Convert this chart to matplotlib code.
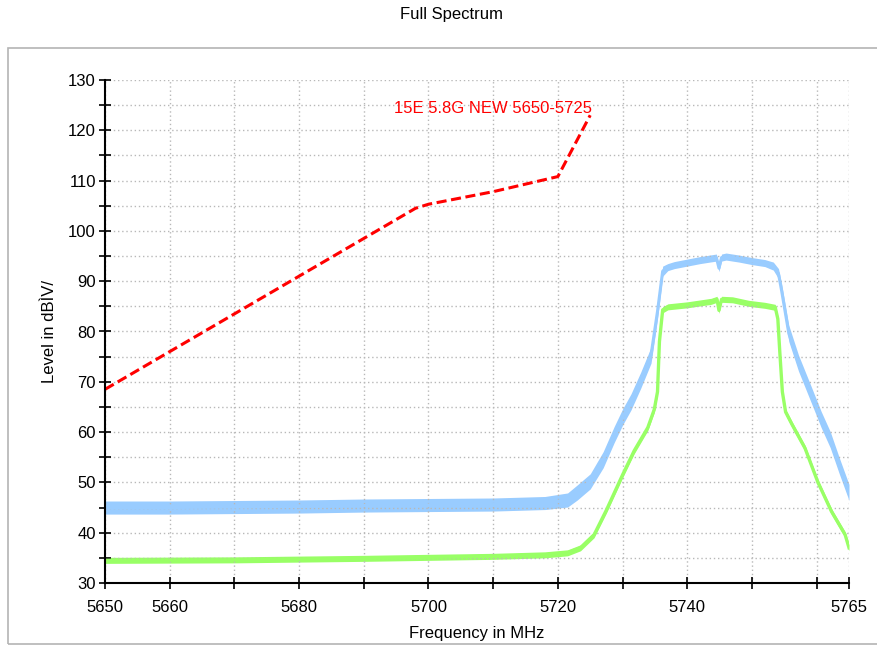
import matplotlib
matplotlib.use('Agg')
import matplotlib.pyplot as plt
from matplotlib.patches import Rectangle

plt.rcParams['font.family'] = ['Liberation Sans', 'DejaVu Sans']

# blue trace (upper measurement): centre line and half band height in dB
blue_freq = [5650, 5660, 5670, 5680, 5690, 5700, 5710, 5718, 5721.5, 5723, 5725,
             5727, 5728.7, 5730, 5731.3, 5732.8, 5734.4, 5735.4, 5736.2, 5737,
             5738, 5740, 5742, 5744.5, 5744.9, 5745.3, 5746, 5748, 5750, 5752,
             5753.3, 5754.1, 5754.6, 5755.7, 5757.2, 5759.3, 5760.7, 5762.1,
             5763.5, 5765]
blue_level = [45.0, 45.0, 45.1, 45.2, 45.4, 45.5, 45.6, 45.9, 46.5, 48.0, 50.2,
              54.5, 59.5, 63.0, 66.0, 70.3, 75.3, 84.0, 92.0, 92.8,
              93.2, 93.7, 94.2, 94.7, 92.6, 94.7, 94.9, 94.5, 94.0, 93.6,
              93.0, 91.5, 88.0, 79.6, 73.7, 67.0, 62.5, 58.5,
              53.3, 48.0]
blue_spread = [1.3, 1.3, 1.3, 1.3, 1.3, 1.3, 1.3, 1.3, 1.4, 1.5, 1.5,
               1.6, 1.6, 1.6, 1.6, 1.6, 1.6, 1.5, 1.0, 0.7,
               0.7, 0.7, 0.7, 0.7, 0.7, 0.7, 0.7, 0.7, 0.7, 0.7,
               0.8, 1.0, 1.4, 1.6, 1.6, 1.6, 1.6, 1.6,
               1.6, 1.6]

# green trace (lower measurement)
green_freq = [5650, 5670, 5690, 5710, 5718, 5721.5, 5723.5, 5725.6, 5727.5, 5730,
              5731.8, 5733.9, 5734.9, 5735.4, 5735.7, 5736.2, 5737, 5740, 5743.7,
              5744.6, 5744.9, 5745.3, 5747, 5749.5, 5752, 5753.6, 5754.0, 5754.3,
              5754.7, 5755.2, 5756.2, 5758.2, 5760.2, 5762.3, 5764.4, 5765]
green_level = [34.5, 34.6, 34.9, 35.3, 35.6, 36.0, 37.0, 39.6, 44.5, 51.5,
               56.3, 60.9, 64.5, 68.0, 78.0, 84.3, 84.9, 85.3, 86.0,
               86.4, 84.2, 86.4, 86.3, 85.6, 85.2, 84.8, 82.5, 76.0,
               68.0, 64.0, 61.5, 56.8, 50.0, 44.2, 39.6, 37.0]

# limit line
limit_freq = [5650, 5698, 5700, 5710, 5720, 5725]
limit_level = [68.5, 104.5, 105.3, 107.8, 110.8, 123.0]
limit_name = "15E 5.8G NEW 5650-5725"

x_ticks = [5650, 5660, 5670, 5680, 5690, 5700, 5710, 5720, 5730, 5740, 5750, 5760, 5765]
x_labels = ['5650', '5660', '', '5680', '', '5700', '', '5720', '', '5740', '', '', '5765']
y_ticks = list(range(30, 131, 5))

fig = plt.figure(figsize=(8.78, 6.46), dpi=100)
ax = fig.add_axes([105 / 878, 1 - 583 / 646, 744 / 878, 503 / 646])

fig.patches.append(Rectangle((8 / 878, 2 / 646), 1.0, 1 - 50 / 646,
                             transform=fig.transFigure, fill=False,
                             edgecolor='#b4b4b4', linewidth=1.2))
fig.text(452 / 878, 1 - 15 / 646, 'Full Spectrum', ha='center', va='center', fontsize=12)

blue_lo = [v - s for v, s in zip(blue_level, blue_spread)]
blue_hi = [v + s for v, s in zip(blue_level, blue_spread)]
ax.fill_between(blue_freq, blue_lo, blue_hi, color='#99ccff', linewidth=0)
ax.plot(blue_freq, blue_level, color='#99ccff', linewidth=2.2)

green_lo = [v - 0.6 for v in green_level]
green_hi = [v + 0.6 for v in green_level]
ax.fill_between(green_freq, green_lo, green_hi, color='#99ff66', linewidth=0)
ax.plot(green_freq, green_level, color='#99ff66', linewidth=2.4)

ax.plot(limit_freq, limit_level, color='red', linewidth=2.2, linestyle=(0, (3.3, 1.5)))
ax.text(5710, 124.4, limit_name, color='red', fontsize=12, ha='center', va='center')

ax.set_xlim(5650, 5765)
ax.set_ylim(30, 130)
ax.set_xticks(x_ticks)
ax.set_xticklabels(x_labels)
ax.set_yticks(y_ticks)
ax.set_yticklabels([str(t) if t % 10 == 0 else '' for t in y_ticks])
ax.tick_params(direction='inout', length=9, width=1.2, labelsize=12, pad=2)
ax.tick_params(axis='x', pad=8)

ax.grid(True, linestyle=(0, (1, 2)), color='#b8b8b8', linewidth=1)
for side in ['top', 'right']:
    ax.spines[side].set_visible(False)
for side in ['left', 'bottom']:
    ax.spines[side].set_linewidth(1.5)

ax.set_xlabel('Frequency in MHz', fontsize=12, labelpad=8)
ax.set_ylabel('Level in dBÌV/', fontsize=12, labelpad=8)

fig.savefig('out.png', dpi=100)
